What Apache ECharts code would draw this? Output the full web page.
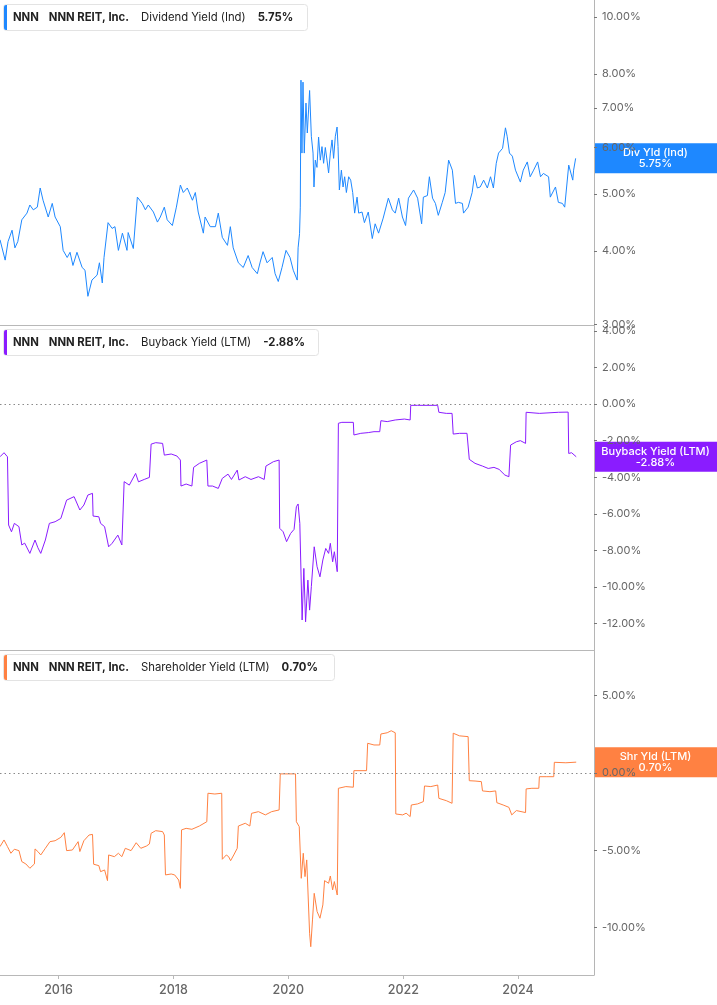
<!DOCTYPE html>
<html><head><meta charset="utf-8">
<script src="https://cdn.jsdelivr.net/npm/echarts@6/dist/echarts.min.js"></script>
<style>html,body{margin:0;padding:0;background:#fff}#c{width:717px;height:1005px}</style>
</head><body><div id="c"></div>
<script>
// ---- data (dates as decimal years) ----
const xTickYears = [2016, 2018, 2020, 2022, 2024];
const divTicks = [3, 4, 5, 6, 7, 8, 10];
const bbTicks = [-12, -10, -8, -6, -4, -2, 0, 2, 4];
const shTicks = [-10, -5, 0, 5];

const divYears = [2014.98,2015.07,2015.12,2015.19,2015.24,2015.29,2015.36,2015.45,2015.50,2015.56,
2015.63,2015.68,2015.73,2015.82,2015.89,2015.94,2016.03,2016.08,2016.15,2016.20,
2016.25,2016.32,2016.41,2016.46,2016.51,2016.58,2016.67,2016.71,2016.76,2016.79,
2016.86,2016.93,2016.98,2017.04,2017.11,2017.19,2017.21,2017.30,2017.37,2017.455,
2017.51,2017.56,2017.65,2017.72,2017.77,2017.84,2017.89,2017.98,2018.05,2018.12,
2018.17,2018.24,2018.33,2018.38,2018.43,2018.52,2018.55,2018.64,2018.73,2018.78,
2018.85,2018.94,2018.99,2019.04,2019.13,2019.215,2019.30,2019.37,2019.46,2019.51,
2019.56,2019.63,2019.72,2019.77,2019.825,2019.89,2019.96,2020.03,2020.086,2020.155,
2020.17,
2020.195,2020.208,2020.22,2020.237,2020.255,2020.277,2020.307,2020.33,2020.352,2020.37,
2020.40,2020.43,2020.446,2020.469,2020.498,2020.526,2020.556,2020.585,2020.613,2020.643,
2020.672,2020.70,2020.73,2020.76,2020.787,2020.817,2020.847,2020.864,2020.887,2020.922,
2020.951,2020.979,2021.009,2021.049,2021.084,2021.119,2021.153,2021.195,2021.223,2021.282,
2021.323,
2021.39,2021.46,
2021.51,2021.57,2021.65,2021.74,2021.81,2021.86,2021.92,2021.985,2022.04,2022.09,
2022.18,2022.25,2022.32,2022.35,2022.42,2022.455,2022.51,2022.56,2022.61,2022.68,
2022.73,2022.79,2022.855,2022.91,2022.96,2023.03,2023.05,2023.13,2023.20,2023.24,
2023.29,2023.34,2023.40,2023.465,2023.52,2023.57,2023.62,2023.66,2023.73,2023.78,
2023.81,2023.85,2023.90,2023.955,2024.04,2024.09,2024.16,2024.21,2024.27,2024.34,
2024.39,2024.44,2024.53,2024.56,2024.65,2024.70,2024.77,2024.81,2024.88,2024.95,
2024.965,2025.00];
const divValues = [4.18,3.86,4.15,4.34,4.05,4.15,4.52,4.64,4.79,4.70,
4.75,5.12,4.88,4.57,4.82,4.57,4.40,4.01,3.90,3.98,
3.78,3.98,3.75,3.71,3.35,3.57,3.64,3.82,3.53,3.90,
4.47,4.37,4.40,4.01,4.29,4.01,4.30,4.04,4.94,4.82,
4.70,4.79,4.66,4.48,4.57,4.75,4.52,4.42,4.75,5.18,
5.03,5.12,4.88,5.03,4.66,4.29,4.57,4.40,4.40,4.64,
4.22,4.09,4.40,4.05,3.82,3.75,3.93,3.75,3.66,3.83,
3.99,3.82,3.90,3.66,3.55,3.75,4.01,3.90,3.71,3.57,
4.05,
4.28,4.75,7.81,5.87,7.75,5.87,7.14,6.35,6.95,7.50,
6.27,5.87,5.14,5.71,5.55,6.25,5.71,6.02,5.64,6.00,
5.71,5.43,5.87,6.18,5.75,6.27,6.50,6.02,5.08,5.49,
5.14,5.35,5.03,5.35,5.28,5.03,4.64,4.94,4.64,4.66,
4.47,
4.66,4.20,
4.45,4.29,4.55,4.92,4.70,4.64,4.92,4.57,4.42,4.92,
5.08,4.92,4.45,4.94,4.97,5.35,4.92,4.82,4.60,4.84,
5.03,5.71,5.49,4.82,4.84,4.82,4.64,4.75,5.03,5.38,
5.12,5.14,5.28,5.12,5.35,5.12,5.64,5.87,5.98,6.48,
6.27,5.87,5.80,5.49,5.24,5.49,5.67,5.35,5.49,5.67,
5.35,5.42,5.35,4.94,5.14,4.84,4.82,4.75,5.60,5.28,
5.49,5.75];

const bbYears = [2014.98,2015.05,2015.11,2015.13,2015.18,2015.23,2015.31,2015.36,2015.41,2015.50,
2015.59,2015.64,2015.69,2015.77,2015.84,2015.94,2016.04,2016.14,2016.27,2016.37,
2016.44,2016.51,2016.59,2016.60,2016.70,2016.73,2016.80,2016.87,2016.93,2017.03,
2017.10,2017.14,2017.23,2017.34,2017.39,2017.49,2017.58,2017.61,2017.69,2017.81,
2017.84,2017.96,2018.06,2018.12,2018.13,2018.22,2018.32,2018.35,2018.45,2018.58,
2018.60,2018.68,2018.78,2018.85,2018.95,2019.01,2019.11,2019.14,2019.25,2019.35,
2019.48,2019.58,2019.61,2019.74,2019.84,2019.85,2019.91,2019.97,2020.04,2020.10,
2020.14,2020.17,2020.20,2020.24,2020.27,2020.30,2020.34,2020.37,2020.40,2020.45,
2020.50,2020.55,2020.60,2020.65,2020.70,2020.73,2020.77,2020.80,2020.85,2020.87,
2020.93,2021.13,2021.14,2021.26,2021.39,2021.49,2021.59,2021.61,2021.72,2021.86,
2021.89,2022.02,2022.12,2022.13,2022.25,2022.60,2022.62,2022.75,2022.85,2022.87,
2022.98,2023.11,2023.15,2023.25,2023.38,2023.48,2023.58,2023.67,2023.77,2023.84,
2023.87,2023.97,2024.04,2024.13,2024.14,2024.37,2024.70,2024.87,2024.88,2024.93,
2025.01];
const bbValues = [-2.88,-2.66,-2.88,-6.61,-6.98,-6.52,-6.70,-7.70,-7.60,-8.16,
-7.43,-7.85,-8.16,-7.43,-6.52,-6.43,-6.25,-5.25,-5.06,-5.79,
-5.52,-4.97,-4.88,-6.12,-6.16,-6.52,-6.70,-7.80,-7.61,-7.16,
-7.70,-4.24,-4.43,-3.79,-4.25,-4.12,-4.01,-2.19,-2.11,-2.15,
-2.79,-2.73,-2.84,-3.06,-4.48,-4.37,-4.48,-3.46,-3.24,-3.06,
-4.48,-4.48,-4.61,-4.06,-3.83,-4.12,-3.61,-4.15,-3.97,-4.12,
-3.97,-4.12,-3.39,-3.15,-3.06,-6.79,-6.98,-7.52,-7.07,-6.85,
-5.61,-5.46,-6.52,-11.80,-8.98,-11.90,-9.62,-11.26,-9.98,-7.80,
-8.89,-9.44,-8.52,-7.89,-8.16,-7.61,-8.62,-8.07,-9.16,-1.05,
-1.00,-1.00,-1.69,-1.60,-1.56,-1.51,-1.51,-0.91,-0.96,-0.87,
-0.82,-0.82,-0.87,-0.07,-0.07,-0.07,-0.45,-0.51,-0.51,-1.64,
-1.60,-1.60,-3.02,-3.24,-3.39,-3.52,-3.46,-3.57,-3.88,-3.97,
-2.24,-2.06,-2.00,-2.15,-0.45,-0.51,-0.45,-0.44,-2.70,-2.66,
-2.88];

const shYears = [2014.98,2015.05,2015.11,2015.17,2015.23,2015.31,2015.36,2015.43,2015.50,2015.58,
2015.59,2015.64,2015.69,2015.77,2015.85,2015.94,2016.04,2016.10,2016.14,2016.24,
2016.34,2016.37,2016.44,2016.53,2016.59,2016.61,2016.70,2016.73,2016.80,2016.85,
2016.87,2016.97,2017.04,2017.10,2017.16,2017.26,2017.35,2017.43,2017.53,2017.58,
2017.61,2017.69,2017.81,2017.84,2017.86,2017.96,2018.02,2018.09,2018.12,2018.14,
2018.22,2018.32,2018.45,2018.58,2018.60,2018.72,2018.84,2018.85,2018.92,2018.96,
2018.995,2019.05,2019.11,2019.13,2019.25,2019.33,2019.36,2019.48,2019.60,2019.71,
2019.84,2019.86,2020.01,2020.125,2020.14,2020.19,2020.225,2020.26,2020.29,2020.32,
2020.37,2020.39,2020.42,2020.45,2020.50,2020.55,2020.60,2020.63,2020.70,2020.73,
2020.77,2020.80,2020.85,2020.87,2021.00,2021.13,2021.14,2021.36,2021.38,2021.49,
2021.59,2021.61,2021.72,2021.79,2021.86,2021.87,2021.99,2022.05,2022.12,2022.14,
2022.25,2022.35,2022.37,2022.48,2022.60,2022.62,2022.75,2022.85,2022.87,2022.98,
2023.13,2023.15,2023.25,2023.36,2023.38,2023.51,2023.61,2023.63,2023.74,2023.84,
2023.89,2023.97,2024.13,2024.14,2024.24,2024.36,2024.37,2024.50,2024.62,2024.63,
2024.83,2025.01];
const shValues = [-4.76,-4.33,-4.76,-5.19,-4.93,-5.02,-5.73,-5.88,-6.16,-5.88,
-4.91,-5.08,-5.30,-4.87,-4.44,-4.38,-4.16,-3.86,-5.02,-4.98,
-4.44,-5.08,-4.38,-4.01,-3.97,-5.90,-5.99,-6.38,-6.27,-6.96,
-5.30,-5.41,-5.19,-5.41,-4.87,-5.02,-4.51,-4.87,-4.72,-4.59,
-3.90,-3.73,-3.79,-4.01,-6.59,-6.53,-6.59,-6.92,-7.46,-3.68,
-3.58,-3.64,-3.43,-3.15,-1.31,-1.36,-1.31,-5.58,-5.30,-5.41,
-5.67,-5.30,-4.87,-3.43,-3.25,-3.43,-2.61,-2.50,-2.71,-2.50,
-2.39,-0.06,-0.06,-0.06,-3.15,-3.47,-6.81,-5.19,-6.70,-5.62,
-10.36,-11.23,-9.50,-7.78,-8.96,-9.39,-8.53,-6.96,-7.13,-6.66,
-7.56,-7.02,-7.89,-0.99,-0.88,-0.92,0.15,0.15,1.92,1.81,
1.81,2.52,2.60,2.73,2.60,-2.65,-2.71,-2.60,-2.82,-2.07,
-2.00,-1.85,-0.84,-0.88,-0.78,-1.64,-1.79,-1.96,2.57,2.40,
2.35,-0.50,-0.52,-0.56,-1.16,-1.21,-1.16,-1.92,-2.07,-2.22,
-2.71,-2.43,-2.56,-1.03,-0.99,-0.99,-0.24,-0.24,-0.24,0.69,
0.66,0.70];

// ---- helpers ----
function yt(y) {
  const yr = Math.floor(y);
  const s = new Date(yr, 0, 1).getTime();
  const e = new Date(yr + 1, 0, 1).getTime();
  return s + (y - yr) * (e - s);
}
function pairs(xs, vs) { return xs.map((x, i) => [yt(x), vs[i]]); }

const C1 = '#1E88FF', C2 = '#8A1CFF', C3 = '#FF8142';
const FONT = 'Inter';
const xMin = yt(2014.98), xMax = yt(2025.32);
const xTicks = xTickYears.map(y => yt(y));

const chart = echarts.init(document.getElementById('c'), null, {renderer: 'canvas'});

function xAxisFor(i, showLabels) {
  return {
    type: 'value', gridIndex: i, min: xMin, max: xMax, scale: true,
    axisLine: {show: true, onZero: false, lineStyle: {color: '#b8b8b8', width: 1}},
    axisTick: showLabels ? {show: true, customValues: xTicks, length: 4, lineStyle: {color: '#b8b8b8'}} : {show: false},
    axisLabel: showLabels ? {
      show: true, customValues: xTicks, color: '#666', fontFamily: FONT, fontSize: 12.5, fontWeight: 500, margin: 9,
      formatter: v => String(new Date(v).getFullYear())
    } : {show: false},
    splitLine: {show: false}
  };
}
function yAxisCommon(i) {
  return {
    gridIndex: i, position: 'right',
    axisLine: {show: true, onZero: false, lineStyle: {color: '#b5b5b5', width: 1}},
    axisTick: {show: true, length: 3, lineStyle: {color: '#777'}},
    axisLabel: {color: '#666', fontFamily: FONT, fontSize: 11, margin: 8, formatter: v => (+v).toFixed(2) + '%'},
    splitLine: {show: false}
  };
}

const y0 = Object.assign(yAxisCommon(0), {type: 'log', logBase: 10, min: 2.994, max: 10.69});
y0.axisLabel.customValues = divTicks; y0.axisTick.customValues = divTicks;
const y1 = Object.assign(yAxisCommon(1), {type: 'value', min: -13.44, max: 4.32});
y1.axisLabel.customValues = bbTicks; y1.axisTick.customValues = bbTicks;
const y2 = Object.assign(yAxisCommon(2), {type: 'value', min: -13.06, max: 7.95});
y2.axisLabel.customValues = shTicks; y2.axisTick.customValues = shTicks;

const zeroLine = {
  silent: true, symbol: 'none', label: {show: false},
  lineStyle: {type: [1.5, 3], color: '#8a8a8a', width: 1},
  data: [{yAxis: 0}]
};

function legendBox(y, w, color, label, value) {
  return {
    type: 'group', z: 50,
    children: [
      {type: 'rect', shape: {x: 3.5, y: y + 0.5, width: w, height: 26, r: 3}, style: {fill: '#fff', stroke: '#e3e3e3', lineWidth: 1}},
      {type: 'rect', shape: {x: 4, y: y + 1, width: 3, height: 25, r: [2, 0, 0, 2]}, style: {fill: color}},
      {type: 'text', style: {
        x: 13, y: y + 13.5, verticalAlign: 'middle',
        text: '{b|NNN}{g| }{b|NNN REIT, Inc.}{h| }{n|' + label + '}{h| }{b|' + value + '}',
        rich: {
          b: {fontFamily: FONT, fontSize: 11.3, fontWeight: 'bold', fill: '#222'},
          n: {fontFamily: FONT, fontSize: 11.3, fill: '#222'},
          g: {width: 10, fontSize: 11},
          h: {width: 12, fontSize: 11}
        }
      }}
    ]
  };
}

chart.setOption({
  animation: false,
  backgroundColor: '#fff',
  grid: [
    {left: 0, right: 123, top: 0, height: 325, outerBoundsMode: 'none', containLabel: false},
    {left: 0, right: 123, top: 325, height: 325, outerBoundsMode: 'none', containLabel: false},
    {left: 0, right: 123, top: 650, height: 325, outerBoundsMode: 'none', containLabel: false}
  ],
  xAxis: [xAxisFor(0, false), xAxisFor(1, false), xAxisFor(2, true)],
  yAxis: [y0, y1, y2],
  series: [
    {type: 'line', xAxisIndex: 0, yAxisIndex: 0, data: pairs(divYears, divValues), showSymbol: false,
     lineStyle: {color: C1, width: 1}, itemStyle: {color: C1}},
    {type: 'line', xAxisIndex: 1, yAxisIndex: 1, data: pairs(bbYears, bbValues), showSymbol: false,
     lineStyle: {color: C2, width: 1}, itemStyle: {color: C2}, markLine: zeroLine},
    {type: 'line', xAxisIndex: 2, yAxisIndex: 2, data: pairs(shYears, shValues), showSymbol: false,
     lineStyle: {color: C3, width: 1}, itemStyle: {color: C3}, markLine: zeroLine}
  ]
});

const tags = [
  {axis: 0, v: divValues[divValues.length - 1], name: 'Div Yld (Ind)', color: C1},
  {axis: 1, v: bbValues[bbValues.length - 1], name: 'Buyback Yield (LTM)', color: C2},
  {axis: 2, v: shValues[shValues.length - 1], name: 'Shr Yld (LTM)', color: C3}
];
const graphics = [
  legendBox(4, 304, C1, 'Dividend Yield (Ind)', divValues[divValues.length - 1].toFixed(2) + '%'),
  legendBox(329, 315, C2, 'Buyback Yield (LTM)', bbValues[bbValues.length - 1].toFixed(2) + '%'),
  legendBox(654, 331, C3, 'Shareholder Yield (LTM)', shValues[shValues.length - 1].toFixed(2) + '%')
];
tags.forEach(t => {
  const py = chart.convertToPixel({yAxisIndex: t.axis}, t.v);
  graphics.push({
    type: 'group', z: 60,
    children: [
      {type: 'rect', shape: {x: 594, y: py - 15, width: 123, height: 30}, style: {fill: t.color}},
      {type: 'text', style: {x: 655.5, y: py, align: 'center', verticalAlign: 'middle',
        text: t.name + '\n' + t.v.toFixed(2) + '%', fill: '#fff',
        fontFamily: FONT, fontSize: 11, fontWeight: 500, lineHeight: 11}}
    ]
  });
});
chart.setOption({graphic: graphics});
</script>
</body></html>
